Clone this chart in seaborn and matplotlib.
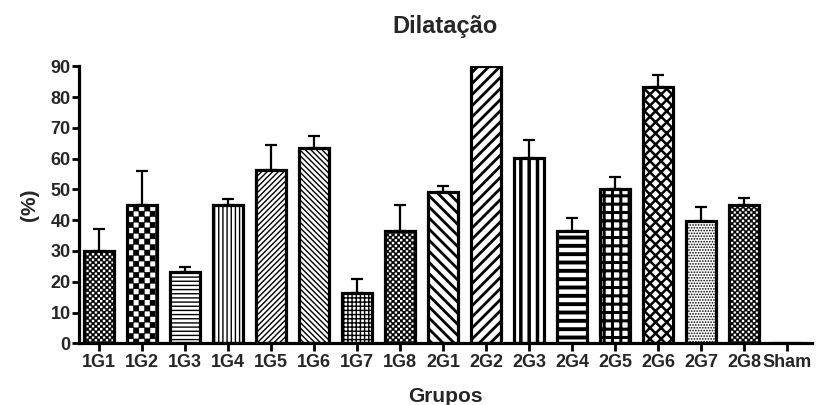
import warnings
import matplotlib
matplotlib.use("Agg")
import matplotlib.pyplot as plt
import matplotlib.hatch as mhatch
from matplotlib.path import Path
import seaborn as sns
import numpy as np
import pandas as pd

warnings.filterwarnings("ignore")

# Groups, mean dilatation (%) and upper SEM
grupos = ["1G1", "1G2", "1G3", "1G4", "1G5", "1G6", "1G7", "1G8",
          "2G1", "2G2", "2G3", "2G4", "2G5", "2G6", "2G7", "2G8", "Sham"]
dilatacao = [30, 45, 23.3, 45, 56.3, 63.3, 16.5, 36.5,
             49.2, 90, 60.1, 36.5, 50, 83.3, 39.7, 45.1, 0]
erro = [7, 11, 1.6, 2, 8, 4, 4.4, 8.6,
        2, 0, 6, 4.3, 4, 4, 4.5, 2, 0]
# fill pattern per group ('c' = checkerboard) and its line width
hachuras = ["cccccc", "ccc", "----", "||||", "//////", "\\\\\\\\\\\\", "++++", "cccccc",
            "\\\\\\", "///", "||", "--", "++", "xxx", "......", "cccccc", ""]
espessura = [0.3, 0.3, 1.0, 1.0, 1.0, 1.0, 1.0, 0.3,
             2.0, 2.0, 2.5, 2.8, 2.2, 1.8, 0.8, 0.3, 1.0]


class CheckerHatch(mhatch.HatchPatternBase):
    """Checkerboard of filled squares, 'c' repeated sets the density."""
    filled = True

    def __init__(self, hatch, density):
        self.n = int(hatch.count("c") * density)
        if self.n % 2:
            self.n += 1
        self.num_squares = (self.n * self.n) // 2
        self.num_vertices = self.num_squares * 5

    def set_vertices_and_codes(self, vertices, codes):
        step = 1.0 / self.n
        k = 0
        for i in range(self.n):
            for j in range(self.n):
                if (i + j) % 2:
                    continue
                x0, y0 = j * step, i * step
                vertices[k:k + 5] = [(x0, y0), (x0 + step, y0), (x0 + step, y0 + step),
                                     (x0, y0 + step), (x0, y0)]
                codes[k] = Path.MOVETO
                codes[k + 1:k + 4] = Path.LINETO
                codes[k + 4] = Path.CLOSEPOLY
                k += 5


mhatch._hatch_types.append(CheckerHatch)

sns.set_theme(style="white")
plt.rcParams["font.family"] = ["Liberation Sans", "DejaVu Sans"]
plt.rcParams["font.weight"] = "bold"
plt.rcParams["hatch.linewidth"] = 1.0
plt.rcParams["hatch.color"] = "black"

df = pd.DataFrame({"Grupos": grupos, "Dilatacao": dilatacao})

fig = plt.figure(figsize=(8.19, 4.05), dpi=100)
ax = fig.add_axes([0.0965, 0.1523, 0.8945, 0.684])

sns.barplot(data=df, x="Grupos", y="Dilatacao", order=grupos, color="white",
            width=0.7, edgecolor="black", linewidth=2.3, ax=ax, zorder=2)

for patch, h, lw in zip(ax.patches, hachuras, espessura):
    patch.set_facecolor("white")
    patch.set_edgecolor("black")
    patch.set_hatch(h)
    if hasattr(patch, "set_hatch_linewidth"):
        patch.set_hatch_linewidth(lw)

# Upper error bars only
xs = np.arange(len(grupos))
mask = np.array(erro) > 0
ax.errorbar(xs[mask], np.array(dilatacao)[mask],
            yerr=[np.zeros(mask.sum()), np.array(erro)[mask]],
            fmt="none", ecolor="black", elinewidth=1.6, capsize=4.6,
            capthick=1.6, zorder=1)

ax.set_xlim(-0.47, 16.57)
ax.set_ylim(0, 90)
ax.set_yticks(np.arange(0, 91, 10))

for side in ["top", "right"]:
    ax.spines[side].set_visible(False)
for side in ["left", "bottom"]:
    ax.spines[side].set_linewidth(2.3)
    ax.spines[side].set_color("black")

ax.tick_params(axis="x", direction="out", length=6, width=2, color="black",
               labelsize=13, pad=2, bottom=True)
ax.tick_params(axis="y", direction="out", length=5, width=2, color="black",
               labelsize=13, pad=1, left=True)
for lab in ax.get_xticklabels() + ax.get_yticklabels():
    lab.set_fontweight("bold")

ax.set_xlabel("Grupos", fontsize=15, fontweight="bold", labelpad=11)
ax.set_ylabel("(%)", fontsize=15, fontweight="bold", labelpad=8)
ax.set_title("Dilatação", fontsize=17, fontweight="bold", pad=24)

fig.savefig("out.png", dpi=100)
